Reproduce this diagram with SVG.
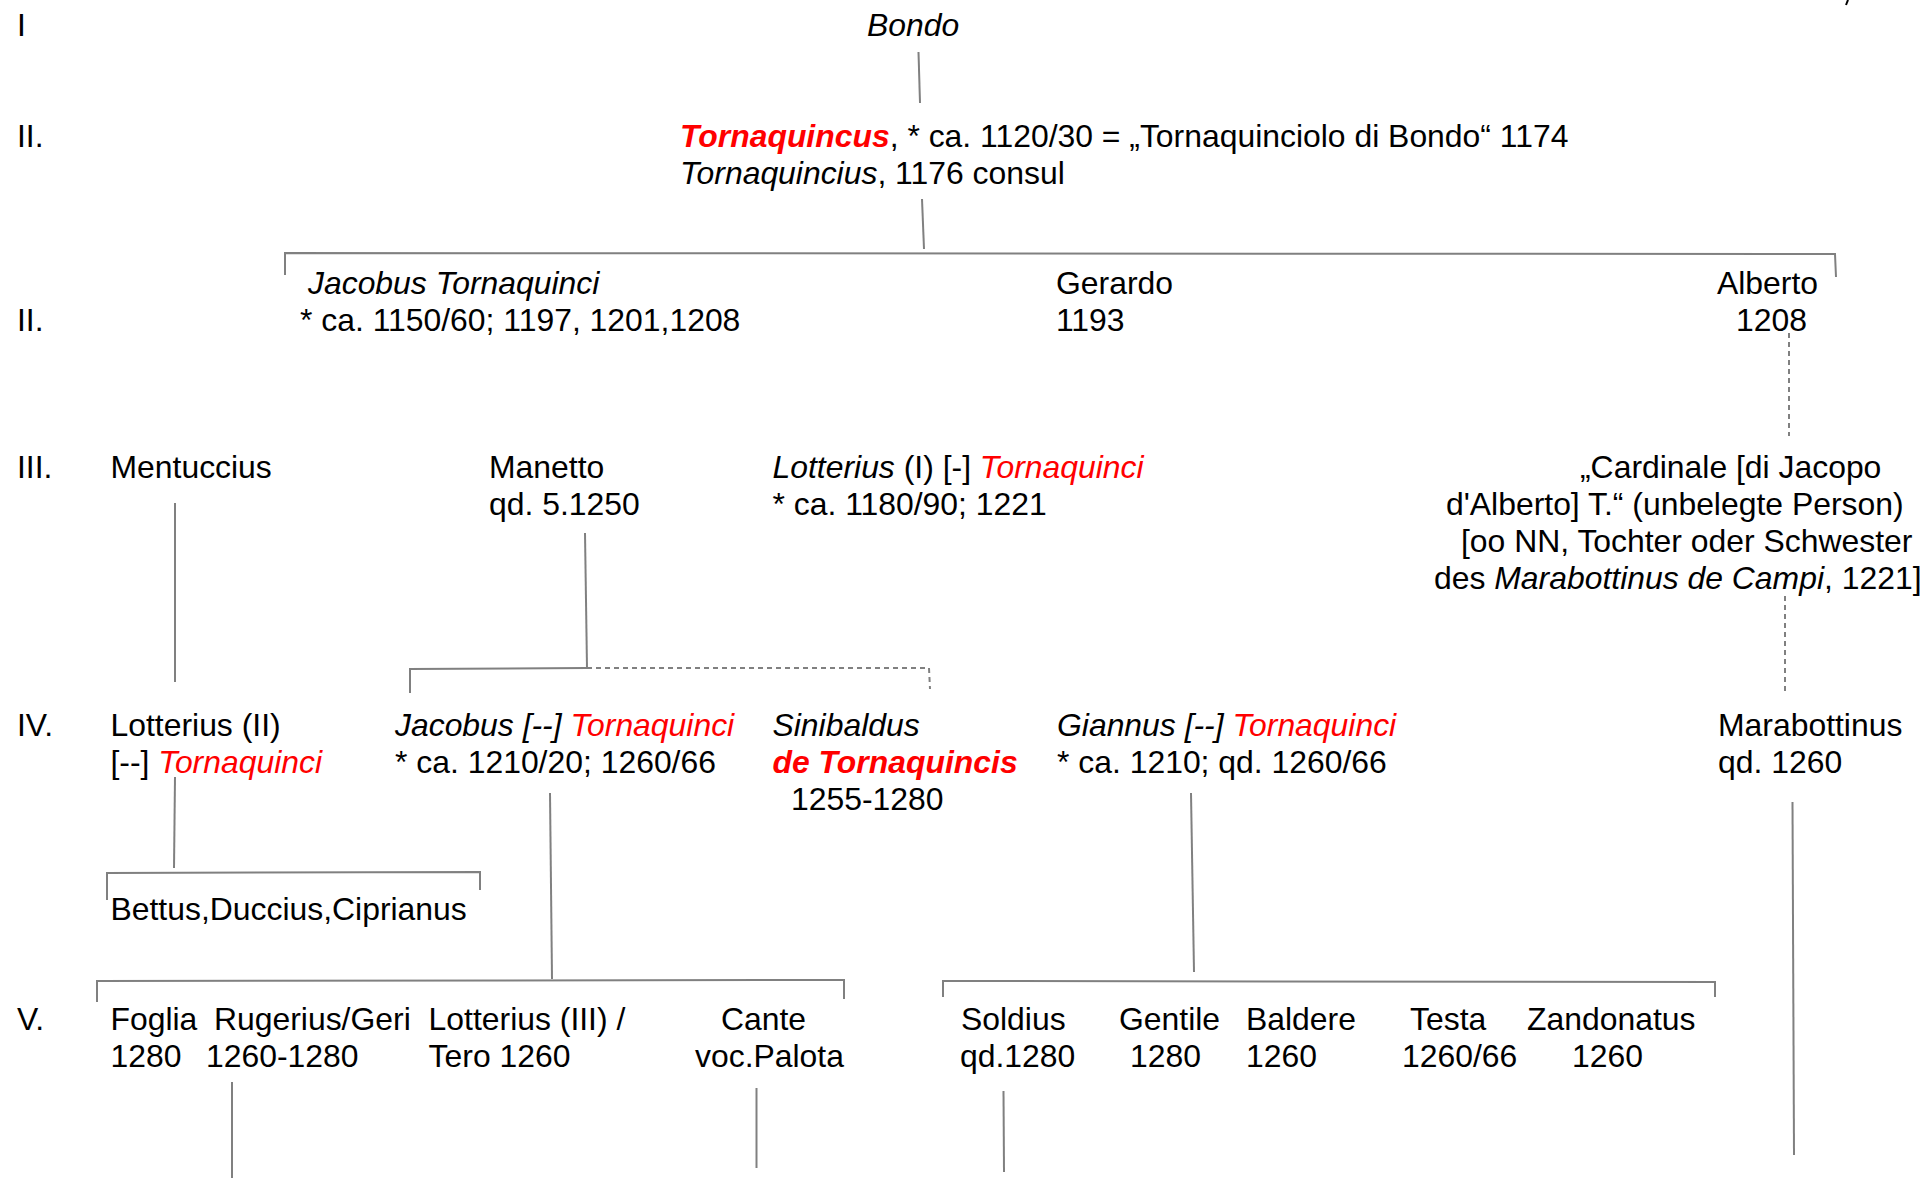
<svg xmlns="http://www.w3.org/2000/svg" width="1926" height="1178" viewBox="0 0 1926 1178">
<style>
text{font-family:"Liberation Sans",Arial,sans-serif;font-size:31.9px;fill:#000}
.i{font-style:italic}
.r{fill:#ff0000}
.b{font-weight:bold}
.ln{stroke:#808080;stroke-width:2;fill:none}
.dl{stroke:#808080;stroke-width:2;fill:none;stroke-dasharray:5 4}
</style>
<rect width="1926" height="1178" fill="#fff"/>
<g id="generations">
<text x="17" y="35.5">I</text>
<text x="17" y="146.5">II.</text>
<text x="17" y="330.5">II.</text>
<text x="17" y="477.5">III.</text>
<text x="17" y="735.5">IV.</text>
<text x="17" y="1029.5">V.</text>
</g>
<g id="connectors">
<line class="ln" x1="918.5" y1="52" x2="920" y2="103"/>
<line class="ln" x1="922" y1="199" x2="924" y2="249"/>
<polyline class="ln" points="285,275 285,253 1835,254 1836,277"/>
<line class="dl" x1="1789" y1="333" x2="1789" y2="436"/>
<line class="dl" x1="1785" y1="596" x2="1785" y2="695"/>
<line class="ln" x1="175" y1="503" x2="175" y2="682"/>
<line class="ln" x1="585" y1="533" x2="587" y2="668"/>
<polyline class="ln" points="410,693 410,669 587,668"/>
<polyline class="dl" points="587,668 929,668 930,689"/>
<line class="ln" x1="175" y1="777" x2="174" y2="868"/>
<polyline class="ln" points="107,900 107,873 480,872 480,890"/>
<line class="ln" x1="550" y1="793" x2="552" y2="979"/>
<polyline class="ln" points="97,1002 97,981 844,980 844,999"/>
<line class="ln" x1="1191" y1="793" x2="1194" y2="972"/>
<polyline class="ln" points="943,997 943,981 1715,982 1715,997"/>
<line class="ln" x1="1792.5" y1="802" x2="1794" y2="1155"/>
<line class="ln" x1="232" y1="1082" x2="232" y2="1178"/>
<line class="ln" x1="756.5" y1="1088" x2="756.5" y2="1168"/>
<line class="ln" x1="1003.5" y1="1091" x2="1004" y2="1172"/>
<line x1="1848" y1="0" x2="1846" y2="5" stroke="#000" stroke-width="2"/>
</g>
<g id="bondo"><text x="867" y="35.5" class="i">Bondo</text></g>
<g id="tornaquincus">
<text x="680" y="146.5"><tspan class="i b r">Tornaquincus</tspan>, * ca. 1120/30 = „Tornaquinciolo di Bondo“ 1174</text>
<text x="680" y="183.5"><tspan class="i">Tornaquincius</tspan>, 1176 consul</text>
</g>
<g id="jacobus">
<text x="308" y="293.5" class="i">Jacobus Tornaquinci</text>
<text x="300" y="330.5">* ca. 1150/60; 1197, 1201,1208</text>
</g>
<g id="gerardo">
<text x="1056" y="293.5">Gerardo</text>
<text x="1056" y="330.5">1193</text>
</g>
<g id="alberto">
<text x="1717" y="293.5">Alberto</text>
<text x="1736" y="330.5">1208</text>
</g>
<g id="mentuccius"><text x="110.5" y="477.5">Mentuccius</text></g>
<g id="manetto">
<text x="489" y="477.5">Manetto</text>
<text x="489" y="514.5">qd. 5.1250</text>
</g>
<g id="lotterius1">
<text x="772.5" y="477.5"><tspan class="i">Lotterius</tspan> (I) [-] <tspan class="i r">Tornaquinci</tspan></text>
<text x="772.5" y="514.5">* ca. 1180/90; 1221</text>
</g>
<g id="cardinale">
<text x="1580" y="477.5">„Cardinale [di Jacopo</text>
<text x="1446" y="514.5">d'Alberto] T.“ (unbelegte Person)</text>
<text x="1461" y="551.5">[oo NN, Tochter oder Schwester</text>
<text x="1434" y="588.5">des <tspan class="i">Marabottinus de Campi</tspan>, 1221]</text>
</g>
<g id="lotterius2">
<text x="110.5" y="735.5">Lotterius (II)</text>
<text x="110.5" y="772.5">[--] <tspan class="i r">Tornaquinci</tspan></text>
</g>
<g id="jacobus2">
<text x="395" y="735.5" class="i">Jacobus [--] <tspan class="r">Tornaquinci</tspan></text>
<text x="395" y="772.5">* ca. 1210/20; 1260/66</text>
</g>
<g id="sinibaldus">
<text x="772.5" y="735.5" class="i">Sinibaldus</text>
<text x="772.5" y="772.5" class="i b r">de Tornaquincis</text>
<text x="791" y="809.5">1255-1280</text>
</g>
<g id="giannus">
<text x="1057" y="735.5" class="i">Giannus [--] <tspan class="r">Tornaquinci</tspan></text>
<text x="1057" y="772.5">* ca. 1210; qd. 1260/66</text>
</g>
<g id="marabottinus">
<text x="1718" y="735.5">Marabottinus</text>
<text x="1718" y="772.5">qd. 1260</text>
</g>
<g id="bettus"><text x="110.5" y="919.5">Bettus,Duccius,Ciprianus</text></g>
<g id="foglia"><text x="110.5" y="1029.5">Foglia</text><text x="110.5" y="1066.5">1280</text></g>
<g id="rugerius"><text x="214" y="1029.5">Rugerius/Geri</text><text x="206" y="1066.5">1260-1280</text></g>
<g id="lotterius3"><text x="428.6" y="1029.5">Lotterius (III) /</text><text x="428.6" y="1066.5">Tero 1260</text></g>
<g id="cante"><text x="721" y="1029.5">Cante</text><text x="695" y="1066.5">voc.Palota</text></g>
<g id="soldius"><text x="961" y="1029.5">Soldius</text><text x="960" y="1066.5">qd.1280</text></g>
<g id="gentile"><text x="1119" y="1029.5">Gentile</text><text x="1130" y="1066.5">1280</text></g>
<g id="baldere"><text x="1246" y="1029.5">Baldere</text><text x="1246" y="1066.5">1260</text></g>
<g id="testa"><text x="1410" y="1029.5">Testa</text><text x="1402" y="1066.5">1260/66</text></g>
<g id="zandonatus"><text x="1527" y="1029.5">Zandonatus</text><text x="1572" y="1066.5">1260</text></g>
</svg>
